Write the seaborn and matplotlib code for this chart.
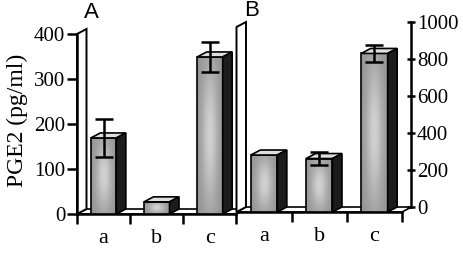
import numpy as np
import pandas as pd
import matplotlib
matplotlib.use("Agg")
import matplotlib.pyplot as plt
from matplotlib.patches import Polygon
import seaborn as sns

# ---------------- data ----------------
categories = ["a", "b", "c"]
panel_a_values = [169, 27, 349]
panel_a_errors = [43, 0, 34]
panel_b_values = [308, 289, 857]
panel_b_errors = [0, 35, 46]
panel_a_ticks = [0, 100, 200, 300, 400]
panel_b_ticks = [0, 200, 400, 600, 800, 1000]
panel_titles = ["A", "B"]
y_label = "PGE2 (pg/ml)"

# ---------------- style ----------------
sns.set_style("white")
plt.rcParams["font.family"] = ["Liberation Serif", "DejaVu Serif"]
for k in ["text.color", "axes.labelcolor", "xtick.color", "ytick.color", "axes.edgecolor"]:
    plt.rcParams[k] = "black"

W, H = 464, 254
fig = plt.figure(figsize=(W / 100, H / 100), dpi=100)
DX, DY = 9.5, 5.0  # 3-D depth in pixels


def frac(x0, y_bottom_px, w, h):
    return [x0 / W, (H - y_bottom_px) / H, w / W, h / H]


axA = fig.add_axes(frac(77, 214, 159.5, 180))
axB = fig.add_axes(frac(236.5, 212, 165.5, 185))
axR = fig.add_axes(frac(236.5 + DX, 212 - DY, 165.5, 185))


def depth(ax):
    inv = ax.transData.inverted()
    p0 = ax.transData.transform((0, 0))
    p1 = inv.transform((p0[0] + DX * fig.dpi / 100, p0[1] + DY * fig.dpi / 100))
    return p1[0], p1[1]


yy, xx = np.mgrid[0:1:60j, 0:1:30j]
grad = 0.58 + 0.24 * np.exp(-((xx - 0.5) / 0.32) ** 2 - ((yy - 0.5) / 0.45) ** 2)


def draw_panel(ax, values, errors, ymax):
    df = pd.DataFrame({"group": categories, "value": values})
    sns.barplot(data=df, x="group", y="value", ax=ax, width=0.48,
                color="#a9a9a9", edgecolor="black", linewidth=1.2)
    bars = list(ax.patches)
    ax.set_xlim(-0.5, 2.5)
    ax.set_ylim(0, ymax)
    ddx, ddy = depth(ax)
    x0, x1 = -0.5, 2.5
    # floor
    ax.add_patch(Polygon([(x0, 0), (x1, 0), (x1 + ddx, ddy), (x0 + ddx, ddy)], closed=True,
                         facecolor="white", edgecolor="black", lw=1.2, clip_on=False, zorder=1))
    # left wall
    ax.add_patch(Polygon([(x0, 0), (x0, ymax), (x0 + ddx, ymax + ddy), (x0 + ddx, ddy)], closed=True,
                         facecolor="white", edgecolor="black", lw=1.4, clip_on=False, zorder=1.5))
    centers = []
    for bar in bars:
        bx, bw, h = bar.get_x(), bar.get_width(), bar.get_height()
        centers.append(bx + bw / 2)
        bar.set_facecolor("none")
        bar.set_zorder(3.2)
        im = ax.imshow(grad, extent=(bx, bx + bw, 0, h), cmap="gray", vmin=0, vmax=1,
                       aspect="auto", interpolation="bilinear", zorder=3.1)
        im.set_clip_path(bar)
        ax.add_patch(Polygon([(bx, h), (bx + bw, h), (bx + bw + ddx, h + ddy), (bx + ddx, h + ddy)],
                             closed=True, facecolor="#dedede", edgecolor="black", lw=1.2,
                             clip_on=False, zorder=3.3))
        ax.add_patch(Polygon([(bx + bw, 0), (bx + bw, h), (bx + bw + ddx, h + ddy), (bx + bw + ddx, ddy)],
                             closed=True, facecolor="#1c1c1c", edgecolor="black", lw=1.2,
                             clip_on=False, zorder=3.3))
    ax.set_xlim(-0.5, 2.5)
    ax.set_ylim(0, ymax)
    sel = [i for i, e in enumerate(errors) if e > 0]
    ax.errorbar([centers[i] for i in sel], [values[i] for i in sel], yerr=[errors[i] for i in sel],
                fmt="none", ecolor="black", elinewidth=1.8, capsize=6.5, capthick=1.8, zorder=5,
                clip_on=False)
    ax.set_xlabel("")
    ax.set_ylabel("")
    ax.set_xticks([0, 1, 2])
    ax.set_xticklabels(categories, fontsize=16)
    ax.tick_params(axis="x", which="major", length=0, pad=11)
    ax.patch.set_visible(False)
    for s in ["top", "right"]:
        ax.spines[s].set_visible(False)
    ax.spines["bottom"].set_linewidth(1.8)
    ax.spines["bottom"].set_zorder(2)


draw_panel(axA, panel_a_values, panel_a_errors, 400)
draw_panel(axB, panel_b_values, panel_b_errors, 1000)

axA.set_xticks([-0.5, 0.5, 1.5, 2.5], minor=True)
axB.set_xticks([0.5, 1.5, 2.5], minor=True)
for ax in (axA, axB):
    ax.tick_params(axis="x", which="minor", length=7.5, width=1.8, direction="out", bottom=True)

axA.spines["left"].set_linewidth(1.8)
axA.set_yticks(panel_a_ticks)
axA.tick_params(axis="y", length=7, width=1.8, direction="out", left=True, labelsize=15, pad=1.5)
axA.set_ylabel(y_label, fontsize=17)
axA.yaxis.set_label_coords(-0.31, 0.52)

axB.spines["left"].set_visible(False)
axB.set_yticks([])

axR.set_ylim(0, 1000)
axR.set_yticks(panel_b_ticks)
axR.yaxis.tick_right()
axR.tick_params(axis="y", length=6, width=1.8, direction="inout", right=True, left=False,
                labelsize=15, pad=1)
axR.set_xticks([])
axR.patch.set_visible(False)
for s in ["top", "left", "bottom"]:
    axR.spines[s].set_visible(False)
axR.spines["right"].set_linewidth(1.8)

fig.text(91 / W, 1 - 13 / H, panel_titles[0], family=["Liberation Sans"], fontsize=16,
         ha="center", va="center")
fig.text(252 / W, 1 - 10 / H, panel_titles[1], family=["Liberation Sans"], fontsize=16,
         ha="center", va="center")

fig.savefig("out.png", dpi=100)
